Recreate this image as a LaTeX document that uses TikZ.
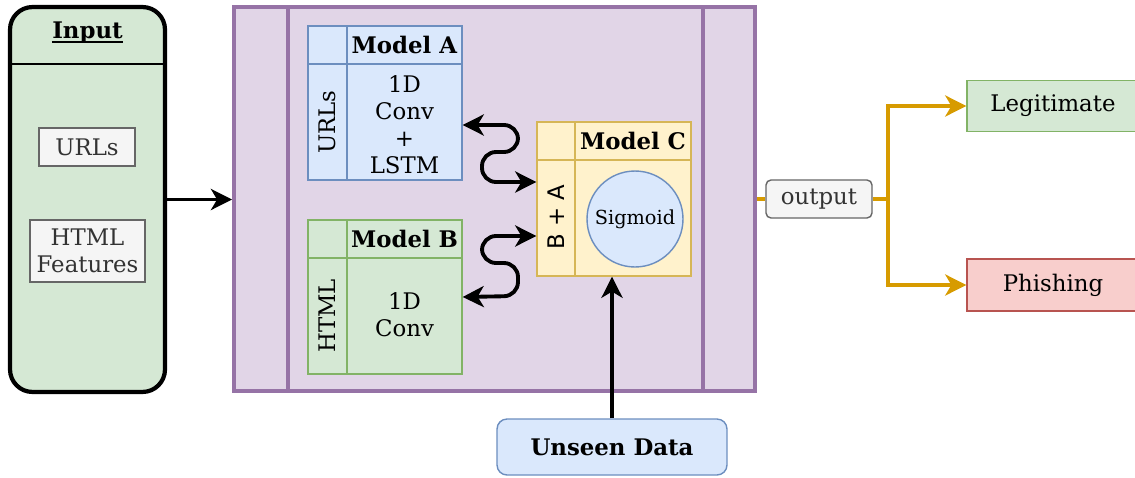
\documentclass[tikz,border=0pt]{standalone}
\usepackage{fontspec}
\setmainfont{DejaVu Serif}
\newfontfamily\sansfam{DejaVu Sans}
\usetikzlibrary{arrows.meta}

\definecolor{purplefill}{HTML}{E1D5E7}
\definecolor{purpleline}{HTML}{9673A6}
\definecolor{greenfill}{HTML}{D5E8D4}
\definecolor{greenline}{HTML}{82B366}
\definecolor{bluefill}{HTML}{DAE8FC}
\definecolor{blueline}{HTML}{6C8EBF}
\definecolor{yellowfill}{HTML}{FFF2CC}
\definecolor{yellowline}{HTML}{D6B656}
\definecolor{redfill}{HTML}{F8CECC}
\definecolor{redline}{HTML}{B85450}
\definecolor{greyfill}{HTML}{F5F5F5}
\definecolor{greyline}{HTML}{666666}
\definecolor{greytext}{HTML}{333333}
\definecolor{outorange}{HTML}{D79B00}

\tikzset{
  box/.style={draw, line width=0.8pt, inner sep=0pt, align=center},
  feature/.style={box, fill=greyfill, draw=greyline, text=greytext},
  modelA/.style={box, fill=bluefill, draw=blueline},
  modelB/.style={box, fill=greenfill, draw=greenline},
  modelC/.style={box, fill=yellowfill, draw=yellowline},
  link/.style={line width=2.2pt, {Stealth[length=12pt,width=12pt,inset=3.5pt]}-{Stealth[length=12pt,width=12pt,inset=3.5pt]}, rounded corners=8pt},
  feed/.style={line width=2.2pt, -{Stealth[length=12pt,width=12pt,inset=3.5pt]}},
  branch/.style={line width=2pt, draw=outorange, -{Stealth[length=12pt,width=12pt,inset=3.5pt]}},
}

\begin{document}
\begin{tikzpicture}[x=0.02cm, y=-0.02cm, font=\fontsize{13}{15.3}\selectfont]
    \useasboundingbox (0,0) rectangle (1135,477);

    % Input column
    \node[box, fill=greenfill, line width=2.4pt, rounded corners=0.45cm,
          minimum width=3.1cm, minimum height=7.7cm] (input) at (87.5,199.5) {};
    \draw[line width=0.8pt] (10,64) -- (165,64);
    \node[inner sep=0pt] (inputlbl) at (87.5,33) {\textbf{Input}};
    \draw[line width=0.9pt] ([yshift=-1.8pt]inputlbl.base west) -- ([yshift=-1.8pt]inputlbl.base east);
    \node[feature, minimum width=1.92cm, minimum height=0.76cm] (urls) at (87,147) {URLs};
    \node[feature, minimum width=2.3cm, minimum height=1.24cm] (html) at (87.5,251) {HTML\\Features};

    % Central block holding the three models
    \node[box, fill=purplefill, draw=purpleline, line width=2.3pt,
          minimum width=10.42cm, minimum height=7.68cm] (core) at (494.5,199) {};
    \draw[purpleline, line width=2.3pt] (288,7) -- (288,391);
    \draw[purpleline, line width=2.3pt] (703,7) -- (703,391);

    \draw[feed] (input.east) -- (input.east -| core.west);

    % Model A
    \node[modelA, minimum width=3.08cm, minimum height=3.08cm] (modA) at (385,103) {};
    \draw[blueline, line width=0.8pt] (308,64) -- (462,64);
    \draw[blueline, line width=0.8pt] (347,26) -- (347,180);
    \node (titA) at (404.5,45) {\textbf{Model A}};
    \node[rotate=90] (sideA) at (327.5,122) {URLs};
    \node[align=center] (bodyA) at (404.5,125) {1D\\Conv\\+\\LSTM};

    % Model B
    \node[modelB, minimum width=3.08cm, minimum height=3.08cm] (modB) at (385,297) {};
    \draw[greenline, line width=0.8pt] (308,258) -- (462,258);
    \draw[greenline, line width=0.8pt] (347,220) -- (347,374);
    \node (titB) at (404.5,239) {\textbf{Model B}};
    \node[rotate=90] (sideB) at (327.5,316) {HTML};
    \node[align=center] (bodyB) at (404.5,315) {1D\\Conv};

    % Model C
    \node[modelC, minimum width=3.08cm, minimum height=3.08cm] (modC) at (614,199) {};
    \draw[yellowline, line width=0.8pt] (537,160) -- (691,160);
    \draw[yellowline, line width=0.8pt] (575,122) -- (575,276);
    \node (titC) at (633,141) {\textbf{Model C}};
    \node[rotate=90] (sideC) at (556,217) {\sansfam B + A};
    \node[circle, box, fill=bluefill, draw=blueline, minimum size=1.92cm] (sig) at (635,219)
         {\fontsize{11}{13}\selectfont Sigmoid};

    % links between the models
    \draw[link] ([yshift=-0.44cm]modA.east) -| (518,152) -| (482,182) -- ([yshift=0.34cm]modC.west);
    \draw[link] ([yshift=-0.74cm]modC.west) -| (482,263) -| (518,296) -- (modB.east);

    % Unseen data
    \node[box, fill=bluefill, draw=blueline, rounded corners=0.2cm,
          minimum width=4.6cm, minimum height=1.12cm] (unseen) at (612,447) {\textbf{Unseen Data}};
    \draw[feed] (unseen.north) -- (unseen.north |- modC.south);

    % Output and the two classes
    \node[feature, rounded corners=0.1cm, minimum width=2.12cm, minimum height=0.76cm] (out) at (819,199) {output};
    \node[modelB, minimum width=3.44cm, minimum height=1.02cm] (legit) at (1053,106) {Legitimate};
    \node[box, fill=redfill, draw=redline, minimum width=3.44cm, minimum height=1.04cm] (phish) at (1053,285) {Phishing};
    \coordinate (split) at (888,199);

    \draw[outorange, line width=2pt] (core.east |- out.west) -- (out.west);
    \draw[outorange, line width=2pt] (out.east) -- (split);
    \draw[branch] (split) |- (legit.west);
    \draw[branch] (split) |- (phish.west);
\end{tikzpicture}
\end{document}
